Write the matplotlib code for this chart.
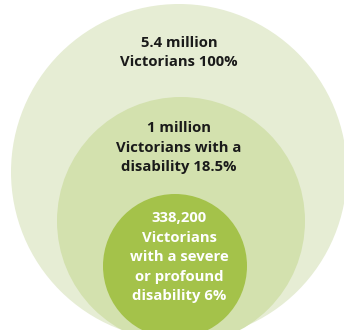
import matplotlib
matplotlib.use("Agg")
import matplotlib.pyplot as plt
from matplotlib.patches import Circle

# Data
groups = ["All Victorians", "Victorians with a disability", "Severe or profound disability"]
populations = ["5.4 million", "1 million", "338,200"]
percents = ["100%", "18.5%", "6%"]
label_lines = [
    [populations[0], "Victorians " + percents[0]],
    [populations[1], "Victorians with a", "disability " + percents[1]],
    [populations[2], "Victorians", "with a severe", "or profound", "disability " + percents[2]],
]

# Layout (pixel-like coordinates)
centers = [(179, 172), (181, 221), (175, 266)]
radii = [168, 124, 72]
colors = ["#E6EDD4", "#D3E1AE", "#A4C24A"]
text_colors = ["#1a1a1a", "#1a1a1a", "#ffffff"]
text_top = [43, 128, 218]
line_gap = 19.5

fig = plt.figure(figsize=(3.44, 3.30), dpi=100)
ax = fig.add_axes([0, 0, 1, 1])
ax.set_xlim(0, 344)
ax.set_ylim(330, 0)
ax.set_aspect("equal")
ax.axis("off")

for (cx, cy), r, c in zip(centers, radii, colors):
    ax.add_patch(Circle((cx, cy), r, facecolor=c, edgecolor="none"))

for lines, y0, tc in zip(label_lines, text_top, text_colors):
    for i, line in enumerate(lines):
        ax.text(179, y0 + i * line_gap, line, ha="center", va="center",
                fontsize=10.7, fontweight="bold", color=tc,
                family=["Open Sans", "DejaVu Sans"])

fig.savefig("out.png", dpi=100)
